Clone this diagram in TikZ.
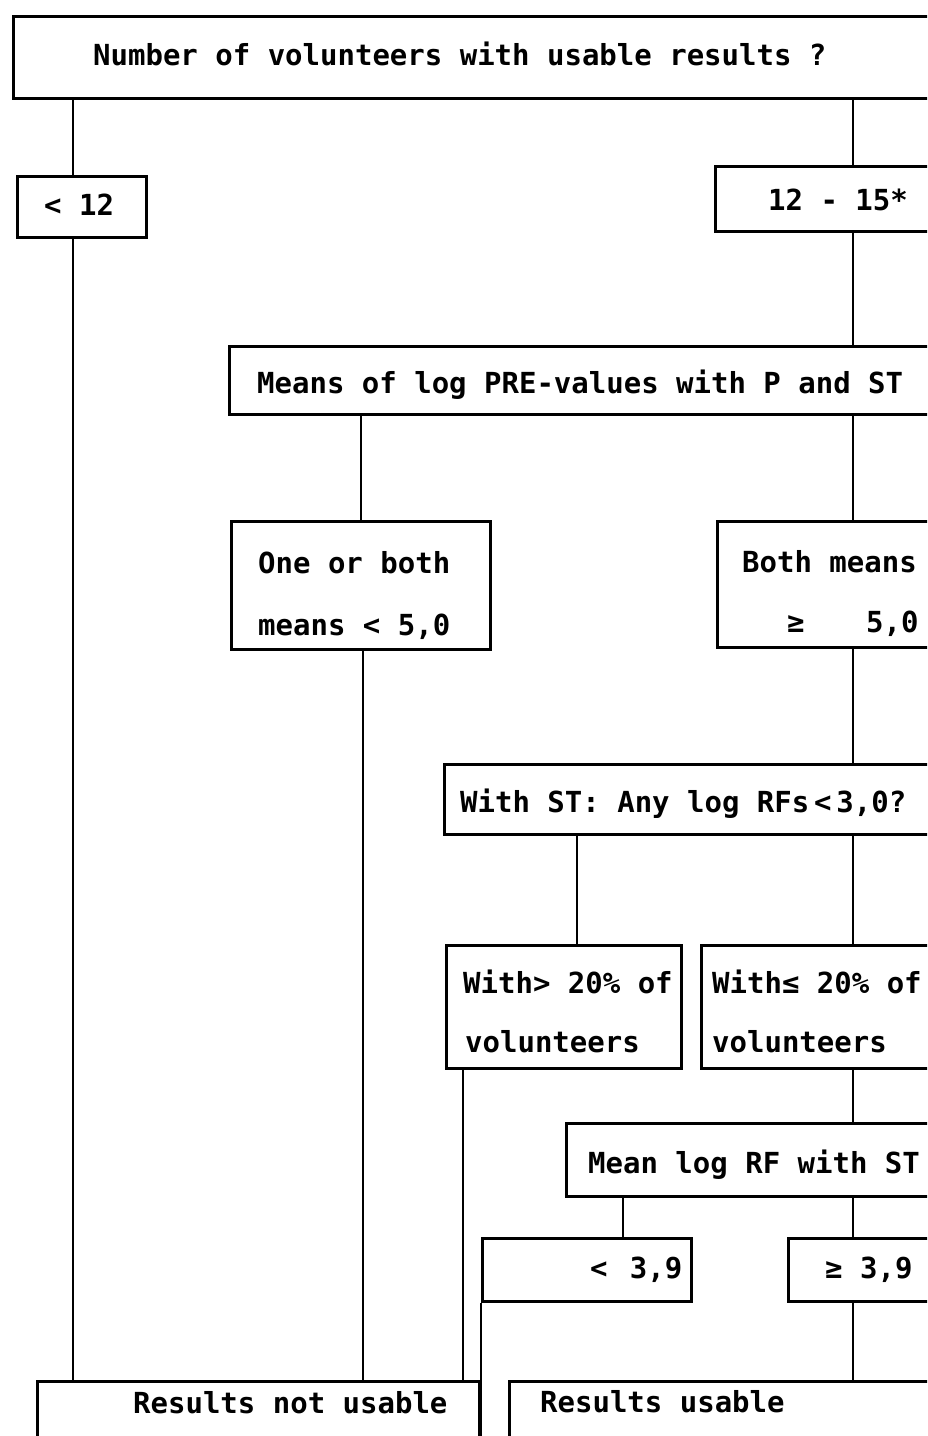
\documentclass[tikz,border=0pt]{standalone}
\usepackage{fontspec}
\newfontfamily\monofont{DejaVu Sans Mono}
\begin{document}
\begin{tikzpicture}[x=1pt,y=-1pt,
  box/.style={draw=black,line width=3.2pt,inner sep=0pt,anchor=north west},
  link/.style={draw=black,line width=2.8pt},
  txt/.style={inner sep=0pt,anchor=base west,font=\monofont\bfseries\fontsize{29}{29}\selectfont}]
\useasboundingbox (0,0) rectangle (927,1436);
\clip (0,0) rectangle (927,1436);
\fill[white] (0,0) rectangle (927,1436);
% boxes
\node[box,minimum width=940pt,minimum height=82pt] (q1) at (12,15) {};
\node[box,minimum width=129pt,minimum height=61pt] (lt12) at (16,175) {};
\node[box,minimum width=240pt,minimum height=65pt] (r1215) at (714,165) {};
\node[box,minimum width=740pt,minimum height=68pt] (q2) at (228,345) {};
\node[box,minimum width=259pt,minimum height=128pt] (lo50) at (230,520) {};
\node[box,minimum width=240pt,minimum height=126pt] (hi50) at (716,520) {};
\node[box,minimum width=520pt,minimum height=70pt] (q3) at (443,763) {};
\node[box,minimum width=235pt,minimum height=123pt] (gt20) at (445,944) {};
\node[box,minimum width=260pt,minimum height=123pt] (le20) at (700,944) {};
\node[box,minimum width=400pt,minimum height=73pt] (q4) at (565,1122) {};
\node[box,minimum width=209pt,minimum height=63pt] (lt39) at (481,1237) {};
\node[box,minimum width=200pt,minimum height=63pt] (ge39) at (787,1237) {};
\node[box,minimum width=442pt,minimum height=90pt] (rnu) at (36,1380) {};
\node[box,minimum width=450pt,minimum height=90pt] (ru) at (508,1380) {};
% texts
\node[txt] (t1) at (93,65) {Number of volunteers with usable results ?};
\node[txt] (t2) at (44,215) {< 12};
\node[txt] (t3) at (768,210) {12 - 15*};
\node[txt] (t4) at (257,393) {Means of log PRE-values with P and ST};
\node[txt] (t5) at (258,573) {One or both};
\node[txt] (t6) at (258,635) {means < 5,0};
\node[txt] (t7) at (742,572) {Both means};
\node[txt] (t8) at (787,632) {≥};
\node[txt] (t9) at (866,632) {5,0};
\node[txt] (t10) at (460,812) {With ST: Any log RFs\,<\,3,0?};
\node[txt] (t11) at (463,993) {With> 20\% of};
\node[txt] (t12) at (465,1052) {volunteers};
\node[txt] (t13) at (712,993) {With≤ 20\% of};
\node[txt] (t14) at (712,1052) {volunteers};
\node[txt] (t15) at (588,1173) {Mean log RF with ST};
\node[txt] (t16) at (590,1278) {<\ \,3,9};
\node[txt] (t17) at (825,1278) {≥ 3,9};
\node[txt] (t18) at (133,1413) {Results not usable};
\node[txt] (t19) at (540,1412) {Results usable};
% x positions of connectors
\coordinate (X73) at (73,0);
\coordinate (X853) at (853,0);
\coordinate (X361) at (361,0);
\coordinate (X363) at (363,0);
\coordinate (X577) at (577,0);
\coordinate (X463) at (463,0);
\coordinate (X623) at (623,0);
\coordinate (Bot) at (0,1440);
% connectors
\draw[link] (q1.south -| X73) -- (lt12.north -| X73);
\draw[link] (q1.south -| X853) -- (r1215.north -| X853);
\draw[link] (lt12.south -| X73) -- (rnu.north -| X73);
\draw[link] (r1215.south -| X853) -- (q2.north -| X853);
\draw[link] (q2.south -| X361) -- (lo50.north -| X361);
\draw[link] (q2.south -| X853) -- (hi50.north -| X853);
\draw[link] (lo50.south -| X363) -- (rnu.north -| X363);
\draw[link] (hi50.south -| X853) -- (q3.north -| X853);
\draw[link] (q3.south -| X577) -- (gt20.north -| X577);
\draw[link] (q3.south -| X853) -- (le20.north -| X853);
\draw[link] (gt20.south -| X463) -- (rnu.north -| X463);
\draw[link] (le20.south -| X853) -- (q4.north -| X853);
\draw[link] (q4.south -| X623) -- (lt39.north -| X623);
\draw[link] (q4.south -| X853) -- (ge39.north -| X853);
\draw[link] (lt39.south west) -- (lt39.south west |- Bot);
\draw[link] (ge39.south -| X853) -- (ru.north -| X853);
\end{tikzpicture}
\end{document}
